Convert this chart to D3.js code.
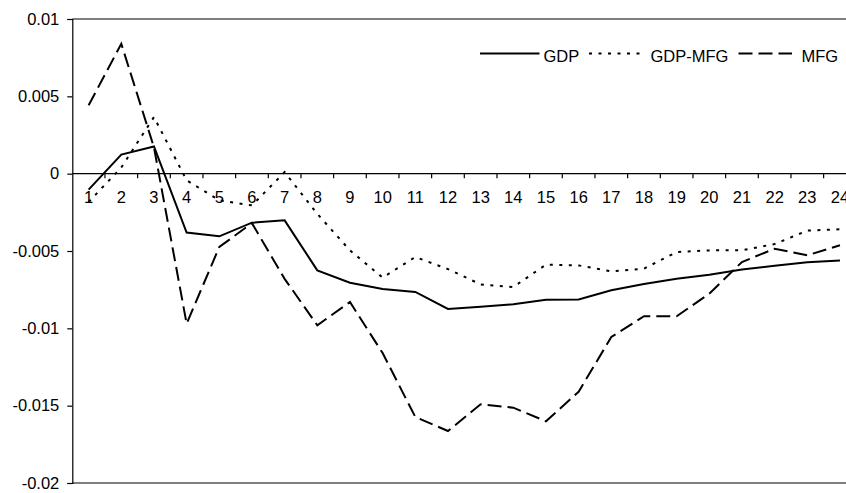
<!DOCTYPE html>
<html>
<head>
<meta charset="utf-8">
<script src="https://cdn.jsdelivr.net/npm/d3@7"></script>
<style>
  html, body { margin: 0; padding: 0; background: #fff; }
  svg { display: block; }
  text { font-family: "Liberation Sans", Arial, sans-serif; font-size: 16.5px; fill: #000; }
</style>
</head>
<body>
<svg id="chart" width="846" height="493"></svg>
<script>
// Periods after the shock
const periods = d3.range(1, 25);

// Impulse responses by series
const gdp = [-0.00103, 0.00123, 0.00176, -0.00381, -0.00405, -0.00317, -0.00302, -0.00625,
  -0.00705, -0.00746, -0.00765, -0.00875, -0.0086, -0.00845, -0.00815, -0.00813,
  -0.00754, -0.00713, -0.00679, -0.00653, -0.0062, -0.00595, -0.00573, -0.00562];
const gdpMfg = [-0.00183, 0.0004, 0.00366, -0.00043, -0.00172, -0.00205, 0.0001, -0.0026,
  -0.00496, -0.00672, -0.00539, -0.00617, -0.00716, -0.00733, -0.00588, -0.00593,
  -0.00632, -0.00614, -0.00507, -0.00496, -0.00495, -0.00455, -0.00368, -0.0036];
const mfg = [0.00442, 0.0084, 0.0017, -0.0097, -0.00474, -0.0032, -0.0068, -0.0098,
  -0.0083, -0.0116, -0.01573, -0.01664, -0.01491, -0.01513, -0.01601, -0.0141,
  -0.01056, -0.00922, -0.00922, -0.00776, -0.00571, -0.00485, -0.00528, -0.00463];

const yTicks = [0.01, 0.005, 0, -0.005, -0.01, -0.015, -0.02];
const seriesNames = ["GDP", "GDP-MFG", "MFG"];

const series = [
  { name: seriesNames[0], values: gdp, dash: null },
  { name: seriesNames[1], values: gdpMfg, dash: "3,6.5" },
  { name: seriesNames[2], values: mfg, dash: "14,6" }
];

const svg = d3.select("#chart");
const plotLeft = 72.3, plotTop = 19, plotBottom = 483;
const plotWidth = 784; // extends past the right edge of the page
const plotRight = plotLeft + plotWidth;

const x = d3.scaleBand().domain(periods).range([plotLeft, plotRight]).paddingInner(0).paddingOuter(0);
const y = d3.scaleLinear().domain([-0.02, 0.01]).range([plotBottom, plotTop]);
const cx = d => x(d) + x.bandwidth() / 2;

// plot frame: top and bottom edges
svg.append("line").attr("x1", plotLeft).attr("x2", plotRight).attr("y1", plotTop).attr("y2", plotTop)
  .attr("stroke", "#000").attr("stroke-width", 1.2);
svg.append("line").attr("x1", plotLeft).attr("x2", plotRight).attr("y1", plotBottom).attr("y2", plotBottom)
  .attr("stroke", "#000").attr("stroke-width", 1.2);

// value axis
const yAxis = d3.axisLeft(y).tickValues(yTicks).tickSize(5).tickPadding(8)
  .tickFormat(d => String(d));
const gy = svg.append("g").attr("transform", `translate(${plotLeft},0)`).call(yAxis);
gy.select(".domain").attr("stroke", "#000").attr("stroke-width", 1.2);
gy.selectAll(".tick line").attr("stroke", "#000").attr("stroke-width", 1.2);
gy.selectAll(".tick text").attr("font-size", "16.5px")
  .attr("font-family", "Liberation Sans, Arial, sans-serif").attr("fill", "#000");

// category axis along zero
const y0 = y(0);
svg.append("line").attr("x1", plotLeft).attr("x2", plotRight).attr("y1", y0).attr("y2", y0)
  .attr("stroke", "#000").attr("stroke-width", 1.2);
const bounds = periods.slice(1).map(p => x(p)).concat([plotRight]);
svg.append("g").selectAll("line").data(bounds).join("line")
  .attr("x1", d => d).attr("x2", d => d).attr("y1", y0).attr("y2", y0 + 4.5)
  .attr("stroke", "#000").attr("stroke-width", 1.2);
svg.append("g").selectAll("text").data(periods).join("text")
  .attr("x", d => cx(d)).attr("y", y0 + 29.5).attr("text-anchor", "middle")
  .text(d => d);

// response lines
const line = d3.line().x((d, i) => cx(periods[i])).y(d => y(d));
svg.append("g").selectAll("path").data(series).join("path")
  .attr("d", d => line(d.values))
  .attr("fill", "none").attr("stroke", "#000").attr("stroke-width", 2)
  .attr("stroke-linejoin", "miter")
  .attr("stroke-dasharray", d => d.dash);

// legend
const legendItems = [
  { s: series[0], x1: 480, x2: 539.5, tx: 543.5 },
  { s: series[1], x1: 589, x2: 642, tx: 650.5 },
  { s: series[2], x1: 738.5, x2: 792, tx: 801.5 }
];
const lg = svg.append("g");
lg.selectAll("line").data(legendItems).join("line")
  .attr("x1", d => d.x1).attr("x2", d => d.x2).attr("y1", 53.5).attr("y2", 53.5)
  .attr("stroke", "#000").attr("stroke-width", 2)
  .attr("stroke-dasharray", d => d.s.dash);
lg.selectAll("text").data(legendItems).join("text")
  .attr("x", d => d.tx).attr("y", 61.5).text(d => d.s.name);
</script>
</body>
</html>
